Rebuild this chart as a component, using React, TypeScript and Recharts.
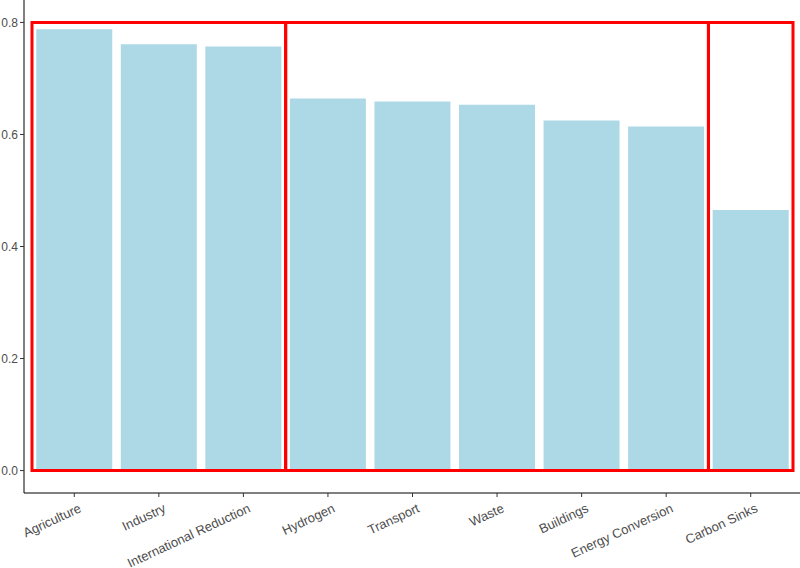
import { Bar, BarChart, ReferenceArea, XAxis, YAxis } from "recharts";

const categories = [
  "Agriculture",
  "Industry",
  "International Reduction",
  "Hydrogen",
  "Transport",
  "Waste",
  "Buildings",
  "Energy Conversion",
  "Carbon Sinks",
];
const values = [0.788, 0.761, 0.757, 0.664, 0.659, 0.653, 0.625, 0.614, 0.465];
const yTicks = [0, 0.2, 0.4, 0.6, 0.8];

// red boxes around groups of sectors, spanning 0 to 0.8
const groups = [
  { from: "Agriculture", to: "International Reduction" },
  { from: "Hydrogen", to: "Energy Conversion" },
  { from: "Carbon Sinks", to: "Carbon Sinks" },
];
const boxBottom = 0;
const boxTop = 0.8;

const data = categories.map((name, i) => ({ name, value: values[i] }));

const textColor = "#4D4D4D";
const font = "Arial, 'Liberation Sans', sans-serif";

function XTick({ x, y, payload }: any) {
  const ax = x + 4;
  const ay = y + 3;
  return (
    <text
      x={ax}
      y={ay}
      dy="0.71em"
      textAnchor="end"
      transform={`rotate(-25, ${ax}, ${ay})`}
      fill={textColor}
      fontSize={13}
      fontFamily={font}
    >
      {payload.value}
    </text>
  );
}

export default function App() {
  return (
    <div
      style={{
        position: "fixed",
        left: 0,
        top: 0,
        width: 800,
        height: 568,
        overflow: "hidden",
        background: "#fff",
      }}
    >
      <BarChart
        width={801}
        height={568}
        data={data}
        margin={{ top: 0, right: 0, bottom: 0, left: 0 }}
        barCategoryGap="5%"
      >
        <XAxis
          dataKey="name"
          interval={0}
          height={75}
          padding={{ left: 8, right: 8 }}
          tickSize={4}
          tickMargin={3}
          tick={<XTick />}
          axisLine={{ stroke: "#000", strokeWidth: 1 }}
          tickLine={{ stroke: "#333", strokeWidth: 1 }}
        />
        <YAxis
          width={24}
          domain={[-0.04, 0.84]}
          ticks={yTicks}
          tickFormatter={(v: number) => v.toFixed(1)}
          tickSize={4}
          tickMargin={2}
          tick={{ fill: textColor, fontSize: 12, fontFamily: font }}
          axisLine={{ stroke: "#000", strokeWidth: 1 }}
          tickLine={{ stroke: "#333", strokeWidth: 1 }}
        />
        <Bar dataKey="value" fill="#ADD8E6" isAnimationActive={false} />
        {groups.map((g) => (
          <ReferenceArea
            key={g.from}
            x1={g.from}
            x2={g.to}
            y1={boxBottom}
            y2={boxTop}
            fill="none"
            fillOpacity={0}
            stroke="#FF0000"
            strokeWidth={3}
            strokeOpacity={1}
            ifOverflow="visible"
            zIndex={700}
          />
        ))}
      </BarChart>
    </div>
  );
}
